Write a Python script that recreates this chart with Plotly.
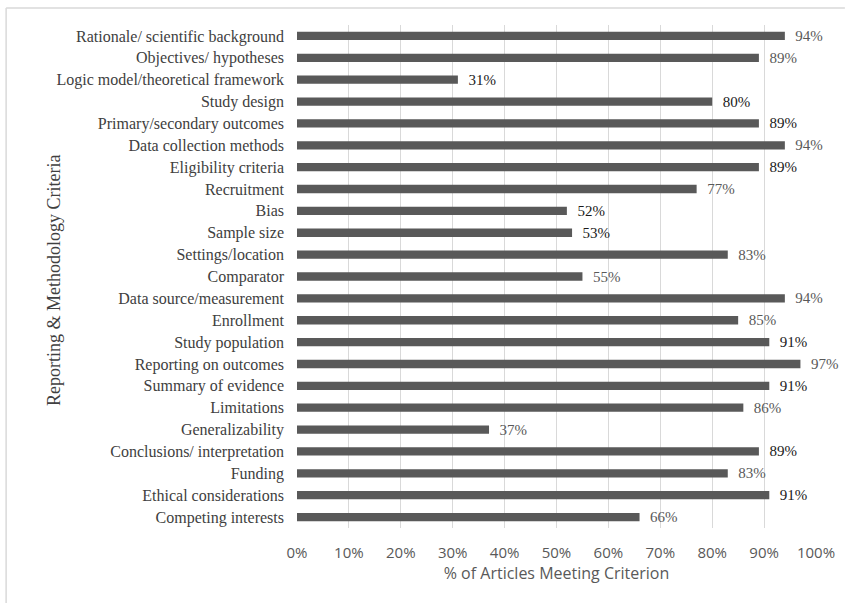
import plotly.graph_objects as go

categories = [
    "Rationale/ scientific background",
    "Objectives/ hypotheses",
    "Logic model/theoretical framework",
    "Study design",
    "Primary/secondary outcomes",
    "Data collection methods",
    "Eligibility criteria",
    "Recruitment",
    "Bias",
    "Sample size",
    "Settings/location",
    "Comparator",
    "Data source/measurement",
    "Enrollment",
    "Study population",
    "Reporting on outcomes",
    "Summary of evidence",
    "Limitations",
    "Generalizability",
    "Conclusions/ interpretation",
    "Funding",
    "Ethical considerations",
    "Competing interests",
]
values = [94, 89, 31, 80, 89, 94, 89, 77, 52, 53, 83, 55, 94, 85, 91, 97, 91, 86, 37, 89, 83, 91, 66]
labels = [f"{v}%" for v in values]
dark_labels = [False, False, True, True, True, False, True, False, True, True, False, False,
               False, False, True, False, True, False, False, True, False, True, False]
tick_vals = [0, 10, 20, 30, 40, 50, 60, 70, 80, 90, 100]
tick_text = [f"{t}%" for t in tick_vals]

label_colors = ["#1a1a1a" if d else "#595959" for d in dark_labels]

fig = go.Figure(
    go.Bar(
        x=values,
        y=categories,
        orientation="h",
        marker=dict(color="#595959", line=dict(width=0)),
        text=labels,
        texttemplate="\u00a0\u00a0%{text}",
        textposition="outside",
        constraintext="none",
        cliponaxis=False,
        textfont=dict(family="Liberation Serif", size=15, color=label_colors),
        hoverinfo="skip",
    )
)

W, H = 847, 603
L, R, T, B = 297, 29, 25, 75
pw = W - L - R
ph = H - T - B

def px_x(p):
    return (p - L) / pw

def px_y(p):
    return (H - B - p) / ph

border = "#d9d9d9"
fig.add_shape(type="line", xref="paper", yref="paper",
              x0=px_x(5), x1=px_x(847), y0=px_y(8), y1=px_y(8),
              line=dict(color=border, width=1.5))
fig.add_shape(type="line", xref="paper", yref="paper",
              x0=px_x(5), x1=px_x(5), y0=px_y(8), y1=px_y(603),
              line=dict(color=border, width=1.5))

fig.add_annotation(
    text="Reporting & Methodology Criteria",
    xref="paper", yref="paper",
    x=px_x(41), y=px_y(280),
    textangle=-90, showarrow=False,
    font=dict(family="Liberation Serif", size=18, color="#404040"),
)

fig.update_layout(
    width=W, height=H,
    margin=dict(l=L, r=R, t=T, b=B, pad=0),
    paper_bgcolor="white",
    plot_bgcolor="white",
    showlegend=False,
    bargap=0.62,
    xaxis=dict(
        range=[0, 100],
        tickvals=tick_vals,
        ticktext=tick_text,
        showgrid=True,
        gridcolor="#d9d9d9",
        gridwidth=1,
        zeroline=False,
        showline=False,
        ticks="",
        ticklabelstandoff=14,
        tickfont=dict(family="Open Sans", size=15, color="#595959"),
        title=dict(text="% of Articles Meeting Criterion", standoff=6,
                   font=dict(family="Open Sans", size=16, color="#595959")),
    ),
    yaxis=dict(
        autorange="reversed",
        showgrid=False,
        zeroline=False,
        showline=False,
        ticks="",
        ticklabelstandoff=12,
        tickfont=dict(family="Liberation Serif", size=16, color="#404040"),
    ),
)

fig.write_html("out.html")
